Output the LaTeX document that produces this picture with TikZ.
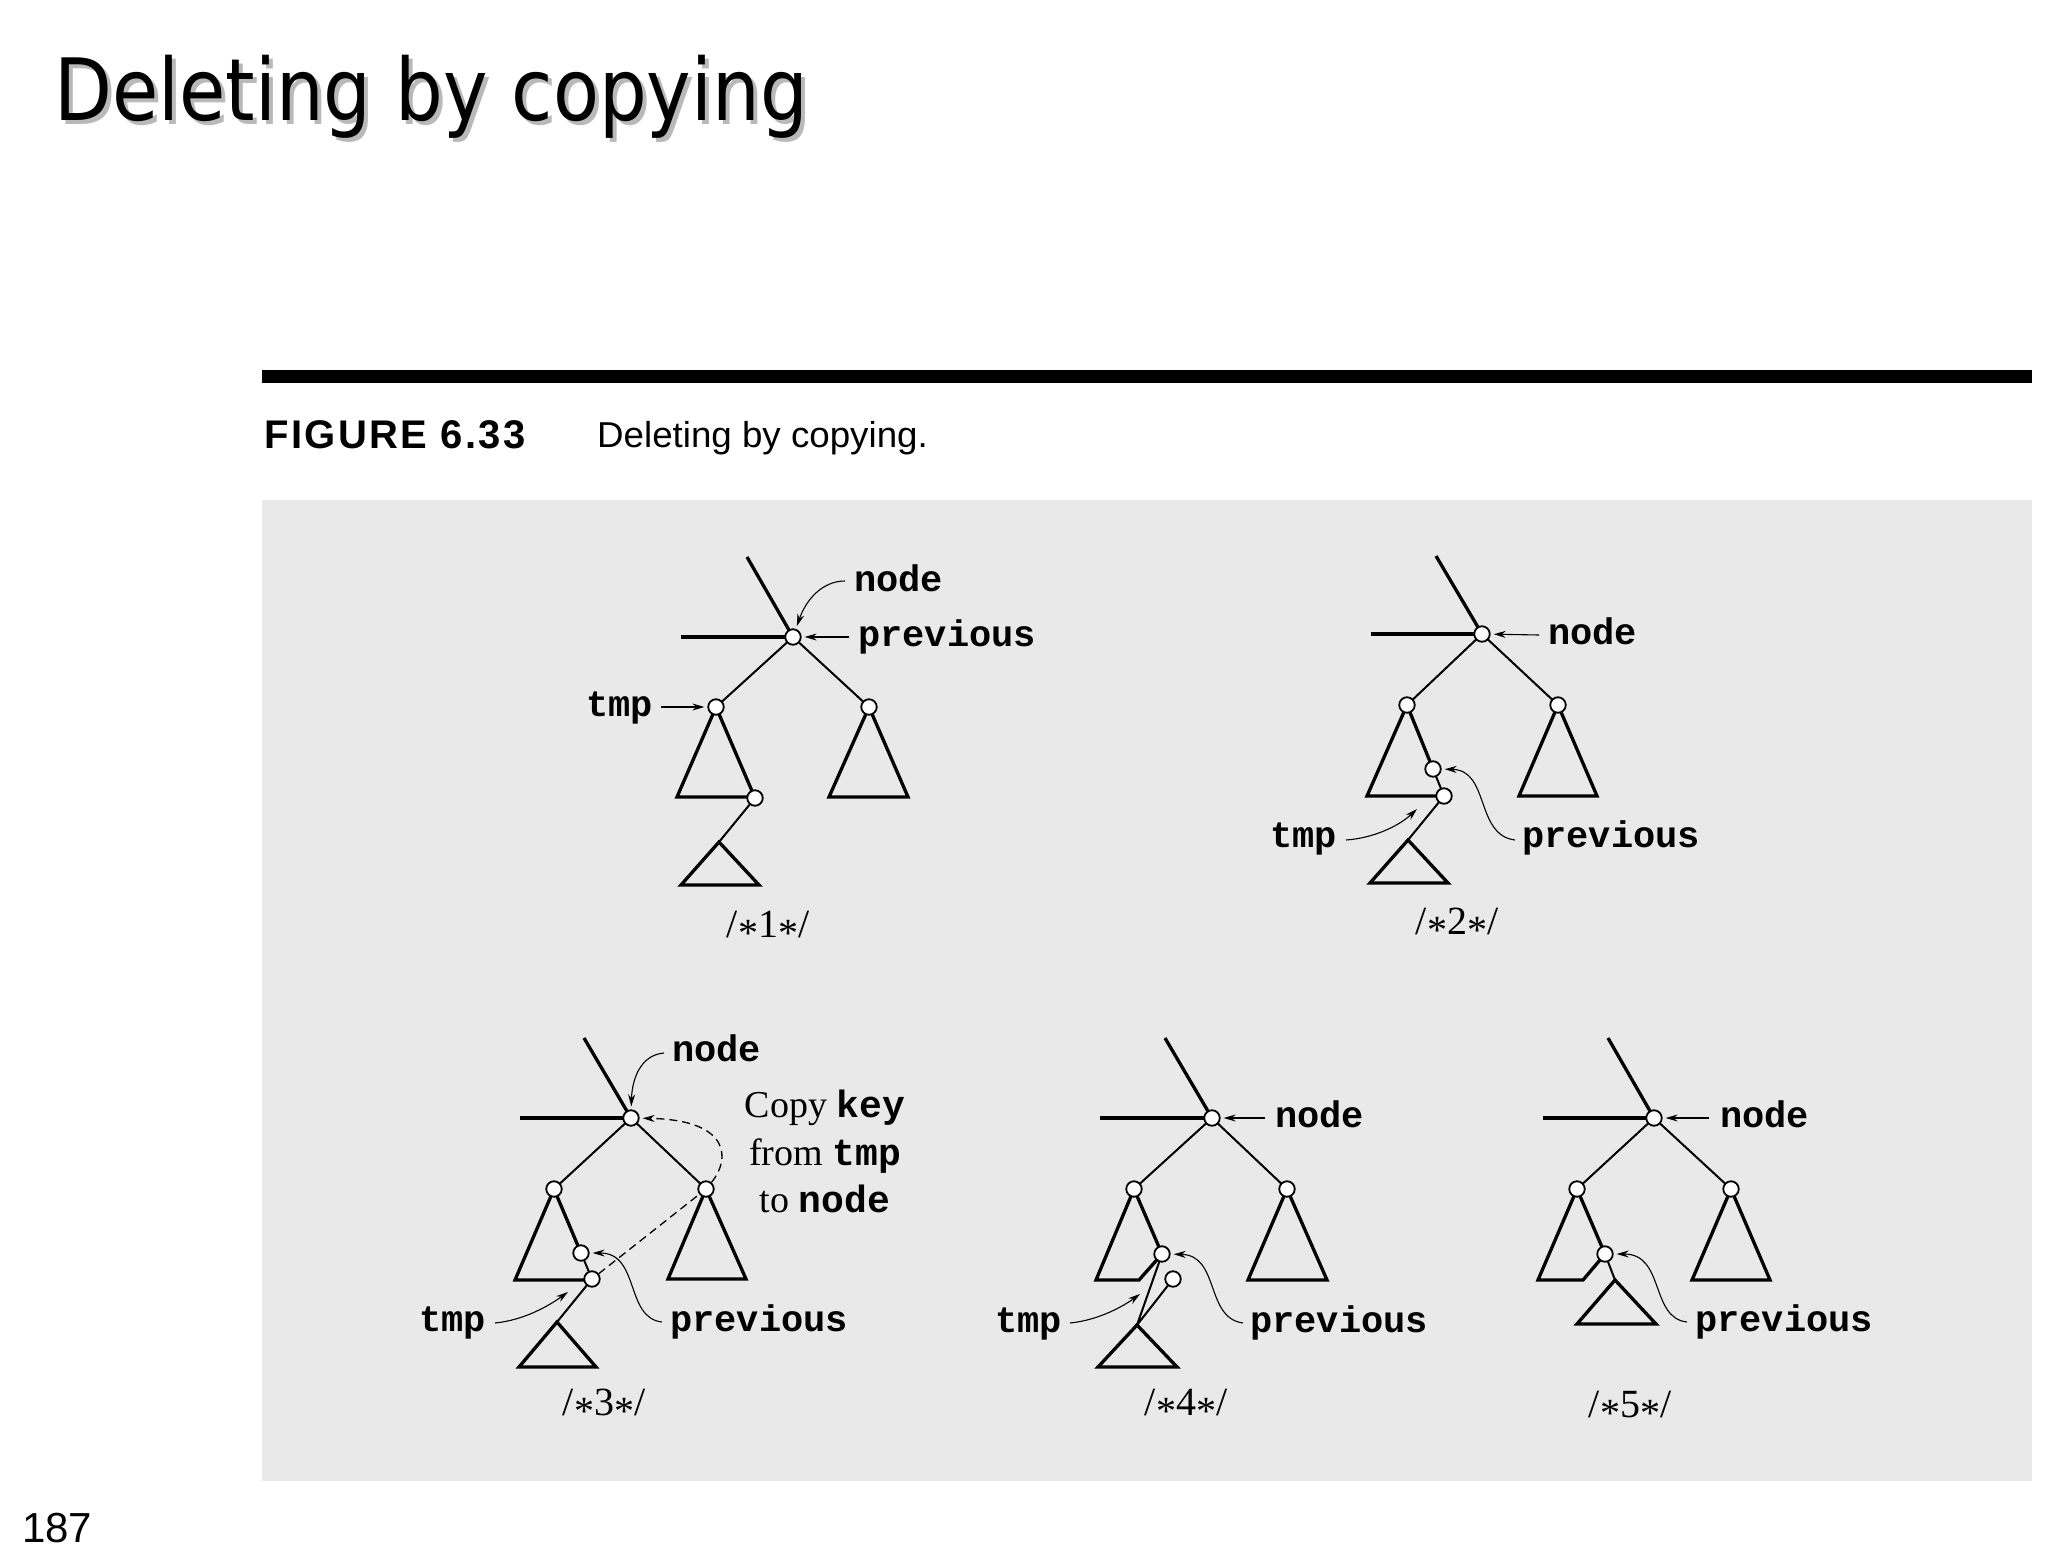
\documentclass[tikz,border=0pt]{standalone}
\usepackage{fontspec}
\usetikzlibrary{arrows.meta}
\newfontfamily\titlef{DejaVu Sans}
\newfontfamily\capf{Liberation Sans}
\newfontfamily\capfsp{Liberation Sans}[LetterSpace=6]
\newfontfamily\monof{Liberation Mono}
\newfontfamily\serf{Liberation Serif}
\newcommand\mt[1]{{\monof\bfseries #1}}
\newcommand\sstar{\raisebox{-0.22em}{*}}
\definecolor{panel}{RGB}{233,233,233}
\definecolor{shadowgray}{RGB}{185,185,185}
\begin{document}
\begin{tikzpicture}[x=1pt,y=-1pt,
  thk/.style={line width=3.3pt, line join=miter},
  edg/.style={line width=2pt},
  vtx/.style={circle, draw, fill=white, line width=1.8pt, minimum size=15.5pt, inner sep=0pt},
  ptr/.style={line width=1.1pt, -{Stealth[length=12pt,width=7pt]}, shorten >=3pt},
  dsh/.style={line width=1.3pt, dash pattern=on 8pt off 5pt},
  lbl/.style={font={\monof\bfseries\fontsize{37}{40}\selectfont}, inner sep=0pt},
  num/.style={font={\serf\fontsize{40}{44}\selectfont}, inner sep=0pt},
  cpy/.style={font={\serf\fontsize{38}{40}\selectfont}, inner sep=0pt, anchor=base}]
\useasboundingbox (0,0) rectangle (2048,1560);
\fill[white] (0,0) rectangle (2048,1560);
% header
\node[anchor=base west, inner sep=0pt, text=shadowgray, font={\titlef\fontsize{86}{90}\selectfont}] (titleS) at (58,125) {\scalebox{0.875}[1]{Deleting by copying}};
\node[anchor=base west, inner sep=0pt, font={\titlef\fontsize{86}{90}\selectfont}] (title) at (54,121) {\scalebox{0.875}[1]{Deleting by copying}};
\fill (262,370) rectangle (2032,383);
\node[anchor=base west, inner sep=0pt, font={\capfsp\bfseries\fontsize{40}{42}\selectfont}] (fig) at (264,448) {FIGURE 6.33};
\node[anchor=base west, inner sep=0pt, font={\capf\fontsize{36}{38}\selectfont}] (cap) at (597,447) {\scalebox{1.02}[1]{Deleting by copying.}};
\fill[panel] (262,500) rectangle (2032,1481);
\node[anchor=base west, inner sep=0pt, font={\capf\fontsize{42}{44}\selectfont}] (pg) at (22,1542) {187};

% ===== Diagram 1 =====
\coordinate (a0) at (793,637);
\coordinate (a1) at (716,707);
\coordinate (a2) at (869,707);
\coordinate (a3) at (755,798);
\coordinate (atop) at (747,557);
\coordinate (ahz) at (681,637);
\coordinate (aap) at (719,842);
\draw[thk] (atop) -- (a0);
\draw[thk] (ahz) -- (a0);
\draw[edg] (a1) -- (a0) -- (a2);
\draw[thk] (a3) -- (a1) -- (677,797) -- (748,797);
\draw[thk] (a2) -- (829,797) -- (908,797) -- cycle;
\draw[edg] (a3) -- (aap);
\draw[thk] (aap) -- (681,885) -- (759,885) -- cycle;
\node[vtx] (A0) at (a0) {};
\node[vtx] (A1) at (a1) {};
\node[vtx] (A2) at (a2) {};
\node[vtx] (A3) at (a3) {};
\node[lbl, anchor=base west] (anode) at (854,591) {node};
\node[lbl, anchor=base west] (aprev) at (858,646) {previous};
\node[lbl, anchor=base east] (atmp) at (653,716) {tmp};
\coordinate (anodeT) at (845,581);
\coordinate (aprevT) at (849,637);
\coordinate (atmpT) at (661,707);
\draw[ptr] (anodeT) .. controls (822,581) and (806,600) .. (A0);
\draw[ptr] (aprevT) -- (A0);
\draw[ptr] (atmpT) -- (A1);
\node[num] (anum) at (768,929) {/\sstar1\sstar/};

% ===== Diagram 2 =====
\coordinate (b0) at (1482,634);
\coordinate (b1) at (1407,705);
\coordinate (b2) at (1558,705);
\coordinate (b3) at (1433,769);
\coordinate (b4) at (1444,796);
\coordinate (btop) at (1436,556);
\coordinate (bhz) at (1371,634);
\coordinate (bap) at (1408,840);
\draw[thk] (btop) -- (b0);
\draw[thk] (bhz) -- (b0);
\draw[edg] (b1) -- (b0) -- (b2);
\draw[thk] (b3) -- (b1) -- (1367,796) -- (1440,796);
\draw[edg] (b3) -- (b4) -- (bap);
\draw[thk] (bap) -- (1370,883) -- (1448,883) -- cycle;
\draw[thk] (b2) -- (1519,796) -- (1597,796) -- cycle;
\node[vtx] (B0) at (b0) {};
\node[vtx] (B1) at (b1) {};
\node[vtx] (B2) at (b2) {};
\node[vtx] (B3) at (b3) {};
\node[vtx] (B4) at (b4) {};
\node[lbl, anchor=base west] (bnode) at (1548,644) {node};
\node[lbl, anchor=base east] (btmp) at (1337,847) {tmp};
\node[lbl, anchor=base west] (bprev) at (1522,847) {previous};
\coordinate (bnodeT) at (1539,635);
\coordinate (btmpT) at (1346,840);
\coordinate (btmpH) at (1417,809);
\coordinate (bprevT) at (1515,840);
\draw[ptr] (bnodeT) -- (B0);
\draw[ptr, shorten >=0pt] (btmpT) .. controls (1375,838) and (1400,825) .. (btmpH);
\draw[ptr] (bprevT) .. controls (1475,835) and (1490,770) .. (B3);
\node[num] (bnum) at (1457,926) {/\sstar2\sstar/};

% ===== Diagram 3 =====
\coordinate (c0) at (631,1118);
\coordinate (c1) at (554,1189);
\coordinate (c2) at (706,1189);
\coordinate (c3) at (581,1253);
\coordinate (c4) at (592,1279);
\coordinate (ctop) at (584,1038);
\coordinate (chz) at (520,1118);
\coordinate (cap3) at (557,1322);
\draw[thk] (ctop) -- (c0);
\draw[thk] (chz) -- (c0);
\draw[edg] (c1) -- (c0) -- (c2);
\draw[thk] (c3) -- (c1) -- (515,1280) -- (588,1280);
\draw[edg] (c3) -- (c4) -- (cap3);
\draw[thk] (cap3) -- (519,1367) -- (596,1367) -- cycle;
\draw[thk] (c2) -- (668,1279) -- (746,1279) -- cycle;
\node[vtx] (C0) at (c0) {};
\node[vtx] (C1) at (c1) {};
\node[vtx] (C2) at (c2) {};
\node[vtx] (C3) at (c3) {};
\node[vtx] (C4) at (c4) {};
\draw[dsh] (C4) -- (C2);
\draw[dsh, -{Stealth[length=12pt,width=7pt]}, shorten >=3pt] (C2) .. controls (730,1160) and (732,1120) .. (C0);
\node[lbl, anchor=base west] (cnode) at (672,1061) {node};
\node[lbl, anchor=base east] (ctmp) at (486,1331) {tmp};
\node[lbl, anchor=base west] (cprev) at (670,1331) {previous};
\node[cpy] (copy1) at (825,1117) {Copy \mt{key}};
\node[cpy] (copy2) at (825,1165) {from \mt{tmp}};
\node[cpy] (copy3) at (825,1212) {to \mt{node}};
\coordinate (cnodeT) at (664,1053);
\coordinate (ctmpT) at (495,1323);
\coordinate (ctmpH) at (568,1292);
\coordinate (cprevT) at (662,1322);
\draw[ptr] (cnodeT) .. controls (640,1055) and (632,1080) .. (C0);
\draw[ptr, shorten >=0pt] (ctmpT) .. controls (525,1320) and (550,1305) .. (ctmpH);
\draw[ptr] (cprevT) .. controls (625,1318) and (640,1253) .. (C3);
\node[num] (cnum) at (604,1407) {/\sstar3\sstar/};

% ===== Diagram 4 =====
\coordinate (d0) at (1212,1118);
\coordinate (d1) at (1134,1189);
\coordinate (d2) at (1287,1189);
\coordinate (d3) at (1162,1254);
\coordinate (d4) at (1173,1279);
\coordinate (dtop) at (1165,1038);
\coordinate (dhz) at (1100,1118);
\coordinate (dap) at (1137,1325);
\draw[thk] (dtop) -- (d0);
\draw[thk] (dhz) -- (d0);
\draw[edg] (d1) -- (d0) -- (d2);
\draw[thk] (d3) -- (d1) -- (1096,1280) -- (1139,1280) -- (d3);
\draw[edg] (d3) -- (dap) -- (d4);
\draw[thk] (dap) -- (1098,1367) -- (1177,1367) -- cycle;
\draw[thk] (d2) -- (1248,1280) -- (1327,1280) -- cycle;
\node[vtx] (D0) at (d0) {};
\node[vtx] (D1) at (d1) {};
\node[vtx] (D2) at (d2) {};
\node[vtx] (D3) at (d3) {};
\node[vtx] (D4) at (d4) {};
\node[lbl, anchor=base west] (dnode) at (1275,1127) {node};
\node[lbl, anchor=base east] (dtmp) at (1062,1332) {tmp};
\node[lbl, anchor=base west] (dprev) at (1250,1332) {previous};
\coordinate (dnodeT) at (1265,1118);
\coordinate (dtmpT) at (1070,1323);
\coordinate (dtmpH) at (1140,1294);
\coordinate (dprevT) at (1243,1323);
\draw[ptr] (dnodeT) -- (D0);
\draw[ptr, shorten >=0pt] (dtmpT) .. controls (1100,1320) and (1125,1305) .. (dtmpH);
\draw[ptr] (dprevT) .. controls (1205,1318) and (1220,1255) .. (D3);
\node[num] (dnum) at (1186,1407) {/\sstar4\sstar/};

% ===== Diagram 5 =====
\coordinate (e0) at (1654,1118);
\coordinate (e1) at (1577,1189);
\coordinate (e2) at (1731,1189);
\coordinate (e3) at (1605,1254);
\coordinate (etop) at (1608,1038);
\coordinate (ehz) at (1543,1118);
\coordinate (eap) at (1615,1280);
\draw[thk] (etop) -- (e0);
\draw[thk] (ehz) -- (e0);
\draw[edg] (e1) -- (e0) -- (e2);
\draw[thk] (e3) -- (e1) -- (1538,1280) -- (1583,1280) -- (e3);
\draw[edg] (e3) -- (eap);
\draw[thk] (eap) -- (1577,1324) -- (1656,1324) -- cycle;
\draw[thk] (e2) -- (1692,1280) -- (1770,1280) -- cycle;
\node[vtx] (E0) at (e0) {};
\node[vtx] (E1) at (e1) {};
\node[vtx] (E2) at (e2) {};
\node[vtx] (E3) at (e3) {};
\node[lbl, anchor=base west] (enode) at (1720,1127) {node};
\node[lbl, anchor=base west] (eprev) at (1695,1331) {previous};
\coordinate (enodeT) at (1709,1118);
\coordinate (eprevT) at (1687,1322);
\draw[ptr] (enodeT) -- (E0);
\draw[ptr] (eprevT) .. controls (1650,1318) and (1665,1254) .. (E3);
\node[num] (enum) at (1630,1409) {/\sstar5\sstar/};
\end{tikzpicture}
\end{document}
